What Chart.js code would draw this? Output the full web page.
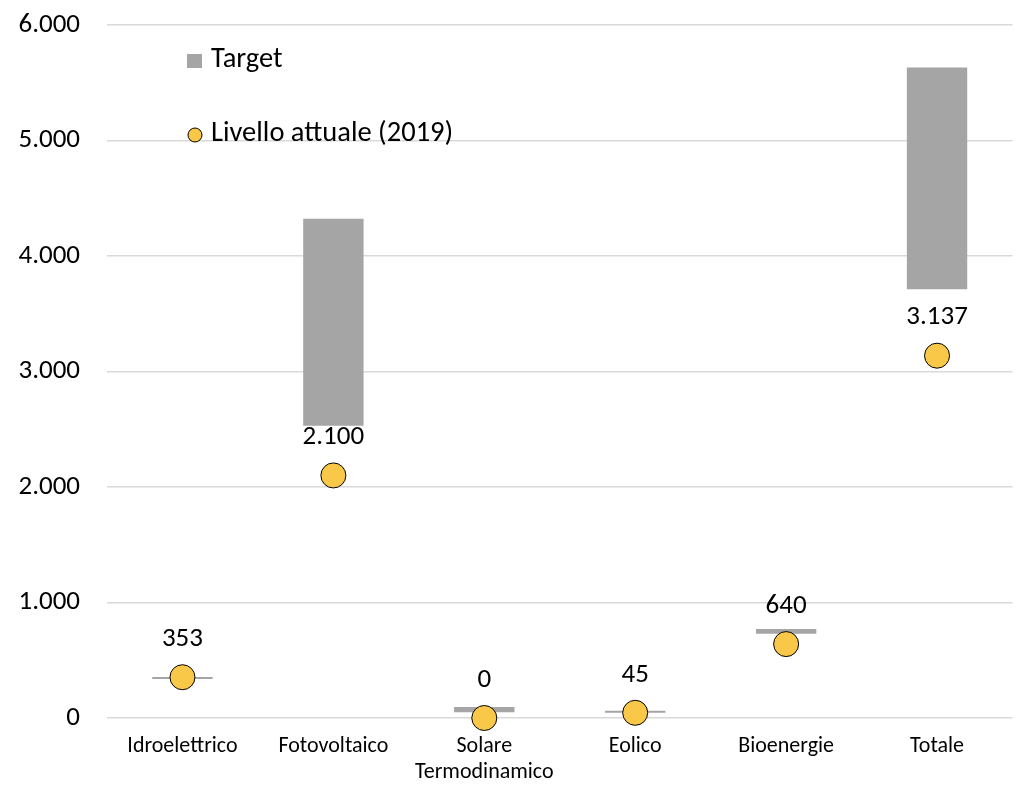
<!DOCTYPE html>
<html>
<head>
<meta charset="utf-8">
<script src="https://cdn.jsdelivr.net/npm/chart.js@4/dist/chart.umd.min.js"></script>
<style>
  html, body { margin: 0; padding: 0; background: #fff; overflow: hidden; }
  #wrap { width: 1026px; height: 793px; }
</style>
</head>
<body>
<div id="wrap"><canvas id="chart"></canvas></div>
<script>
var categories = ['Idroelettrico', 'Fotovoltaico', ['Solare', 'Termodinamico'], 'Eolico', 'Bioenergie', 'Totale'];
var targetLow = [338, 2530, 50, 45, 730, 3713];
var targetHigh = [355, 4322, 95, 62, 770, 5631];
var current2019 = [353, 2100, 0, 45, 640, 3137];
var yTicks = [0, 1000, 2000, 3000, 4000, 5000, 6000];

var FONT = 'Calibri, Carlito, Lato, sans-serif';

// 2100 -> "2.100"
function fmt(v) {
  return String(v).replace(/\B(?=(\d{3})+(?!\d))/g, '.');
}

var targetRanges = targetLow.map(function (lo, i) { return [lo, targetHigh[i]]; });

// values written above the yellow points
var valueLabels = {
  id: 'valueLabels',
  afterDatasetsDraw: function (chart) {
    var ctx = chart.ctx;
    var meta = chart.getDatasetMeta(1);
    ctx.save();
    ctx.font = '27px ' + FONT;
    ctx.fillStyle = '#000';
    ctx.textAlign = 'center';
    ctx.textBaseline = 'middle';
    meta.data.forEach(function (pt, i) {
      ctx.fillText(fmt(current2019[i]), pt.x, pt.y - 38);
    });
    ctx.restore();
  }
};

// legend sits inside the plot, top left
var innerLegend = {
  id: 'innerLegend',
  afterDraw: function (chart) {
    var ctx = chart.ctx;
    var x = chart.chartArea.left + 80;
    var ds = chart.data.datasets;
    ctx.save();
    ctx.font = '28.5px ' + FONT;
    ctx.textBaseline = 'middle';
    ctx.fillStyle = ds[0].backgroundColor;
    ctx.fillRect(x, 54, 15, 14);
    ctx.fillStyle = '#000';
    ctx.fillText(ds[0].label, x + 24, 60);
    ctx.beginPath();
    ctx.arc(x + 8, 135, 7, 0, Math.PI * 2);
    ctx.fillStyle = ds[1].pointBackgroundColor;
    ctx.fill();
    ctx.lineWidth = 1;
    ctx.strokeStyle = '#000';
    ctx.stroke();
    ctx.fillStyle = '#000';
    ctx.fillText(ds[1].label, x + 24, 134);
    ctx.restore();
  }
};

new Chart(document.getElementById('chart'), {
  data: {
    labels: categories,
    datasets: [{
      type: 'bar',
      label: 'Target',
      data: targetRanges,
      backgroundColor: '#A5A5A5',
      borderWidth: 0,
      barPercentage: 0.4,
      categoryPercentage: 1,
      order: 2
    }, {
      type: 'line',
      label: 'Livello attuale (2019)',
      data: current2019,
      showLine: false,
      pointRadius: 12.5,
      pointHoverRadius: 12.5,
      pointBackgroundColor: '#FAC848',
      pointBorderColor: '#000',
      pointBorderWidth: 1,
      clip: false,
      order: 1
    }]
  },
  options: {
    responsive: true,
    maintainAspectRatio: false,
    animation: false,
    layout: { padding: { top: 25, right: 5, left: 0, bottom: 0 } },
    plugins: {
      legend: { display: false },
      tooltip: { enabled: false }
    },
    scales: {
      x: {
        grid: { display: false, drawTicks: false },
        border: { display: false },
        ticks: {
          color: '#000',
          font: { family: FONT, size: 22, lineHeight: 1.2 },
          padding: 15,
          maxRotation: 0,
          autoSkip: false
        },
        afterFit: function (scale) {
          scale.height = 75;
          scale.paddingLeft = 0;
          scale.paddingRight = 0;
        }
      },
      y: {
        min: 0,
        max: 6000,
        afterBuildTicks: function (scale) {
          scale.ticks = yTicks.map(function (v) { return { value: v }; });
        },
        grid: { color: '#D9D9D9', lineWidth: 1.5, drawTicks: false },
        border: { display: false },
        ticks: {
          color: '#000',
          font: { family: FONT, size: 27 },
          padding: 27,
          callback: function (v) { return fmt(v); }
        },
        afterFit: function (scale) {
          scale.width = 107;
          // keep the tick padding from pushing the plot down
          scale.paddingTop = 16;
          scale.paddingBottom = 16;
        }
      }
    }
  },
  plugins: [valueLabels, innerLegend]
});
</script>
</body>
</html>
